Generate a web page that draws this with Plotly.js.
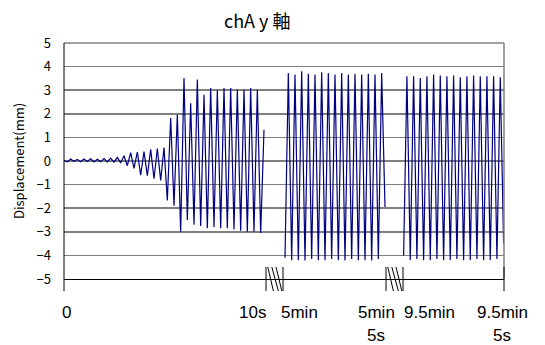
<!DOCTYPE html>
<html>
<head>
<meta charset="utf-8">
<script src="https://cdn.plot.ly/plotly-3.0.1.min.js"></script>
<style>html,body{margin:0;padding:0;background:#fff;}#chart{width:545px;height:345px;}</style>
</head>
<body>
<div id="chart"></div>
<script>
// Displacement extrema (mm), alternating peaks/troughs every half period
const seg1Values = [0.02, -0.03, 0.08, -0.02, 0.07, -0.03, 0.08, -0.02, 0.09, -0.04,
  0.07, -0.03, 0.1, -0.04, 0.12, -0.05, 0.15, -0.08, 0.22, -0.2,
  0.35, -0.31, 0.38, -0.6, 0.4, -0.62, 0.49, -0.75, 0.53, -0.82,
  0.57, -1.67, 1.82, -1.9, 1.96, -3.0, 3.52, -2.5, 2.45, -2.7,
  3.45, -2.75, 2.81, -2.85, 3.09, -2.8, 3.0, -2.85, 3.09, -2.85,
  3.09, -2.9, 3.02, -2.95, 3.02, -3.0, 3.09, -3.0, 3.02, -3.05, 1.32];
const seg2Values = [-4.1, 3.73, -4.2, 3.66, -4.2, 3.8, -4.22, 3.7, -4.15, 3.66,
  -4.2, 3.76, -4.2, 3.73, -4.15, 3.66, -4.2, 3.73, -4.22, 3.66,
  -4.15, 3.7, -4.2, 3.66, -4.2, 3.7, -4.22, 3.66, -4.15, 3.73, -1.95];
const seg3Values = [-4.0, 3.59, -4.2, 3.59, -4.15, 3.52, -4.2, 3.59, -4.2, 3.66,
  -4.15, 3.62, -4.2, 3.59, -4.2, 3.62, -4.15, 3.55, -4.2, 3.59,
  -4.2, 3.62, -4.15, 3.59, -4.2, 3.59, -4.2, 3.59, -4.15, 3.55, -3.5];
// start of each segment on the compressed time axis (s) and sample step (s)
const segStarts = [0, 11.05, 16.98];
const sampleStep = 1 / 6;
const axisMax = 22;
// x-axis labels (first and second line)
const tickLabels = ['0', '10s', '5min', '5min', '9.5min', '9.5min'];
const tickLabels2 = ['', '', '', '5s', '', '5s'];
const tickPositions = [0.1, 9.4, 11.75, 15.6, 18.25, 21.9];
const breakStarts = [10.1, 16.1];
const yTicks = [-5, -4, -3, -2, -1, 0, 1, 2, 3, 4, 5];

const segs = [seg1Values, seg2Values, seg3Values];
const traces = segs.map((vals, s) => ({
  x: vals.map((_, i) => segStarts[s] + i * sampleStep),
  y: vals,
  type: 'scatter', mode: 'lines',
  line: {color: '#000080', width: 1.2},
  showlegend: false, hoverinfo: 'skip'
}));

const P = t => t / axisMax;
const tickTop = 0.051, tickBot = -0.051;
const shapes = [
  {type: 'line', xref: 'paper', yref: 'paper', x0: 1, x1: 1, y0: 0, y1: 1, line: {color: '#808080', width: 1.5}},
  {type: 'line', xref: 'paper', yref: 'paper', x0: 0, x1: 1, y0: 1, y1: 1, line: {color: '#808080', width: 1.5}},
  {type: 'line', xref: 'paper', yref: 'paper', x0: 0, x1: 0, y0: tickBot, y1: 1, line: {color: '#000', width: 1}},
  {type: 'line', xref: 'paper', yref: 'paper', x0: 1, x1: 1, y0: tickBot, y1: tickTop, line: {color: '#000', width: 1}}
];
breakStarts.forEach(b => {
  [0, 0.85].forEach(o => shapes.push({type: 'line', xref: 'paper', yref: 'paper',
    x0: P(b + o), x1: P(b + o), y0: tickBot, y1: tickTop, line: {color: '#000', width: 1}}));
  [[0.09, 0.37], [0.29, 0.62], [0.5, 0.79]].forEach(([s, e]) => shapes.push({type: 'line', xref: 'paper', yref: 'paper',
    x0: P(b + s), x1: P(b + e), y0: tickTop, y1: tickBot, line: {color: '#000', width: 1}}));
});

const labelFont = {size: 17, color: '#000', family: 'Liberation Sans, Arial, sans-serif'};
const annotations = [];
tickLabels.forEach((t, i) => {
  annotations.push({text: t, xref: 'x', yref: 'paper', x: tickPositions[i], y: -0.144,
    xanchor: 'center', yanchor: 'middle', showarrow: false, font: labelFont});
  if (tickLabels2[i]) annotations.push({text: tickLabels2[i], xref: 'x', yref: 'paper', x: tickPositions[i], y: -0.2373,
    xanchor: 'center', yanchor: 'middle', showarrow: false, font: labelFont});
});
annotations.push({text: 'Displacement(mm)', xref: 'paper', yref: 'paper', x: -0.1045, y: 0.5,
  xanchor: 'center', yanchor: 'middle', textangle: -90, showarrow: false,
  font: {size: 13, color: '#000', family: 'Noto Sans CJK JP'}});

const layout = {
  width: 545, height: 345,
  margin: {l: 64, r: 41, t: 43, b: 66, pad: 0},
  paper_bgcolor: '#fff', plot_bgcolor: '#fff',
  font: {family: 'Noto Sans CJK JP', color: '#000'},
  title: {text: 'chA y 軸', x: 0.472, xanchor: 'center', y: 0.938, yanchor: 'middle',
    font: {size: 18, color: '#000', family: 'Noto Sans CJK JP'}},
  xaxis: {range: [0, axisMax], showgrid: false, zeroline: false, showline: true,
    linecolor: '#000', linewidth: 1, showticklabels: false, ticks: '', fixedrange: true},
  yaxis: {range: [-5, 5], tickvals: yTicks, showgrid: true, gridcolor: '#808080', gridwidth: 1.5,
    zeroline: false, showline: false, ticks: '', ticklabelstandoff: 12,
    tickfont: {size: 13, color: '#000', family: 'Noto Sans CJK JP'}, fixedrange: true},
  shapes: shapes,
  annotations: annotations
};

Plotly.newPlot('chart', traces, layout, {staticPlot: true, displayModeBar: false});
</script>
</body>
</html>
